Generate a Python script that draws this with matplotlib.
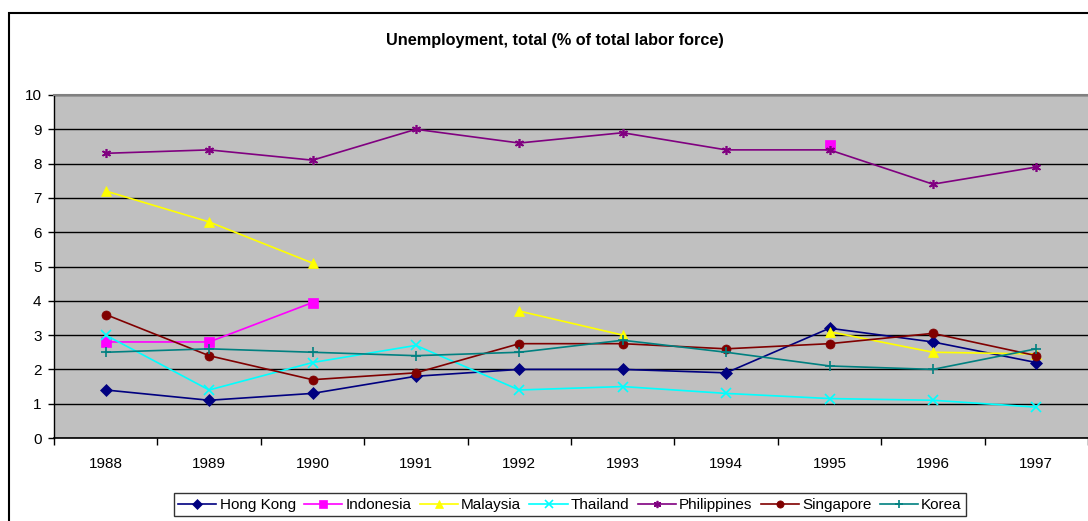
import matplotlib.pyplot as plt
import numpy as np
from matplotlib.patches import Rectangle

plt.rcParams['font.family'] = ['Liberation Sans', 'DejaVu Sans']

nan = np.nan
years = ["1988", "1989", "1990", "1991", "1992", "1993", "1994", "1995", "1996", "1997"]
hong_kong = [1.4, 1.1, 1.3, 1.8, 2.0, 2.0, 1.9, 3.2, 2.8, 2.2]
indonesia = [2.8, 2.8, 3.95, nan, nan, nan, nan, 8.55, nan, nan]
malaysia = [7.2, 6.3, 5.1, nan, 3.7, 3.0, nan, 3.1, 2.5, 2.45]
thailand = [3.0, 1.4, 2.2, 2.7, 1.4, 1.5, 1.3, 1.15, 1.1, 0.9]
philippines = [8.3, 8.4, 8.1, 9.0, 8.6, 8.9, 8.4, 8.4, 7.4, 7.9]
singapore = [3.6, 2.4, 1.7, 1.9, 2.75, 2.75, 2.6, 2.75, 3.05, 2.4]
korea = [2.5, 2.6, 2.5, 2.4, 2.5, 2.85, 2.5, 2.1, 2.0, 2.6]

series = [
    ("Hong Kong", hong_kong, "#000080", "D"),
    ("Indonesia", indonesia, "#FF00FF", "s"),
    ("Malaysia", malaysia, "#FFFF00", "^"),
    ("Thailand", thailand, "#00FFFF", "x"),
    ("Philippines", philippines, "#800080", (6, 2, 0)),
    ("Singapore", singapore, "#800000", "o"),
    ("Korea", korea, "#008080", "+"),
]

fig = plt.figure(figsize=(10.88, 5.21), dpi=100)
fig.patches.append(Rectangle((9 / 1088, -0.1), 1.2, 1.1 - 13 / 521, transform=fig.transFigure,
                             fill=False, edgecolor="black", linewidth=1.5, zorder=0))

ax = fig.add_axes([54 / 1088, 1 - 438 / 521, 1 - 54 / 1088, (438 - 95) / 521])
ax.set_facecolor("#C0C0C0")

x = np.arange(len(years))
for name, vals, color, marker in series:
    ms = 6.5
    if marker in ("x", "+"):
        ms = 7
    ax.plot(x, vals, color=color, marker=marker, markersize=ms, linewidth=1.2,
            markeredgewidth=1.2 if marker in ("x", "+", (6, 2, 0)) else 0.5,
            markeredgecolor=color, label=name)

ax.set_ylim(0, 10)
ax.set_yticks(range(0, 11))
ax.set_xlim(-0.5, len(years) - 0.5)
ax.set_xticks(np.arange(-0.5, len(years), 1.0))
ax.set_xticklabels([])
ax.set_xticks(x, minor=True)
ax.set_xticklabels(years, minor=True)
ax.tick_params(axis="x", which="major", direction="out", length=5, width=1, color="black")
ax.tick_params(axis="x", which="minor", length=0, pad=14, labelsize=11)
ax.tick_params(axis="y", direction="out", length=4, width=1, pad=5, labelsize=11)
ax.grid(axis="y", color="black", linewidth=1)
ax.set_axisbelow(True)

ax.spines["right"].set_visible(False)
ax.spines["top"].set_color("#808080")
ax.spines["top"].set_linewidth(1.5)
ax.spines["left"].set_linewidth(1)
ax.spines["bottom"].set_linewidth(1.2)

fig.text(555 / 1088, 1 - 40 / 521, "Unemployment, total (% of total labor force)",
         ha="center", va="center", fontsize=11.7, fontweight="bold")

leg = fig.legend(loc="lower center", bbox_to_anchor=(570 / 1088, -0.006), ncol=7,
                 fontsize=11, frameon=True, fancybox=False, edgecolor="black",
                 handlelength=2.5, handletextpad=0.2, columnspacing=0.55,
                 borderpad=0.3, markerscale=0.8)
leg.get_frame().set_linewidth(1)

fig.savefig("out.png", dpi=100)
